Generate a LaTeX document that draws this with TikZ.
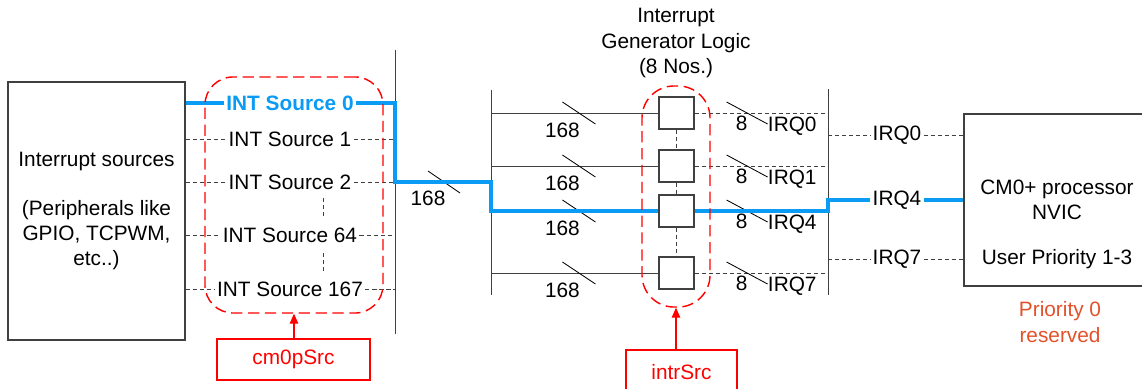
\documentclass[tikz,border=0pt]{standalone}
\usepackage{fontspec}
\setmainfont{Liberation Sans}
\usetikzlibrary{positioning,arrows.meta,calc}
\definecolor{cBlue}{HTML}{0A9BF5}
\definecolor{cRed}{HTML}{FF0000}
\definecolor{cOrange}{HTML}{E2512A}
\definecolor{cInk}{HTML}{000000}
\definecolor{cLine}{HTML}{404040}

\begin{document}
\begin{tikzpicture}[x=0.025cm,y=-0.025cm,font=\fontsize{14.8}{18}\selectfont,
      blk/.style={draw=cLine,line width=0.8pt,text=cInk,align=center},
      gen/.style={draw=cLine,line width=0.8pt,minimum width=0.875cm,minimum height=0.8cm,inner sep=0pt},
      grp/.style={draw=cRed,line width=1pt,dash pattern=on 8pt off 4pt,rounded corners=0.7cm,inner sep=0pt},
      tag/.style={draw=cRed,line width=1pt,text=cRed},
      lbl/.style={inner sep=1.5pt,text=cInk},
      sig/.style={cLine,line width=0.6pt,dash pattern=on 3pt off 2pt},
      wire/.style={cLine,line width=0.7pt},
      hot/.style={cBlue,line width=2.2pt},
      tick/.style={cInk,line width=0.6pt},
      arr/.style={-{Triangle[length=7pt,width=6pt]},cRed,line width=0.8pt}]
    \useasboundingbox (0,0) rectangle (1142,388);
    % sources and first bus
    \node[blk,minimum width=4.425cm,minimum height=6.45cm] (src) at (96.5,211)
      {Interrupt sources\\[17pt](Peripherals like\\GPIO, TCPWM,\\etc..)};
    \coordinate (busA) at (395,50);
    \coordinate (busAend) at (395,334);
    \draw[wire] (busA) -- (busAend);
    \foreach \n/\y in {1/139,2/182,64/235,167/289} {
      \node[lbl] (s\n) at (290,\y) {INT Source \n};
      \draw[sig] (src.east |- s\n) -- (s\n.west);
      \draw[sig] (s\n.east) -- (busA |- s\n);
    }
    \node[lbl,text=cBlue,font=\fontsize{14.8}{18}\selectfont\bfseries] (s0) at (290,103) {INT Source 0};
    \draw[sig] (323,198) -- (323,218);
    \draw[sig] (323,253) -- (323,272);
    % generator logic
    \node[align=center] (title) at (676,43) {Interrupt\\Generator Logic\\(8 Nos.)};
    \coordinate (busB) at (491,90);
    \coordinate (busBend) at (491,295);
    \coordinate (busC) at (828,89);
    \coordinate (busCend) at (828,295);
    \draw[wire] (busB) -- (busBend);
    \draw[wire] (busC) -- (busCend);
    \foreach \k/\y in {0/113,1/166,4/211,7/273}
      \node[gen] (g\k) at (676.5,\y) {};
    \foreach \k in {0,1,4,7} {
      \draw[wire] (busB |- g\k) -- (g\k.west);
      \draw[tick] ($(g\k.west)+(-96,-11)$) -- ++(33,22);
      \node[lbl] (n\k) at ($(g\k.west)+(-96,17)$) {168};
      \draw[sig] (g\k.east) -- (busC |- g\k);
      \draw[tick] ($(g\k.east)+(32,-11)$) -- ++(41,22);
      \node[lbl] (w\k) at ($(g\k.east)+(47,10)$) {8};
      \node[lbl,anchor=west] (q\k) at ($(g\k.east)+(71,13)$) {IRQ\k};
    }
    \draw[sig] (g0.south) -- (g1.north);
    \draw[sig] (g1.south) -- (g4.north);
    \draw[sig] (g4.south) -- (g7.north);
    \draw[tick] (428,171) -- (460,193);
    \node[lbl] (nA) at (428,198) {168};
    % NVIC
    \node[blk,minimum width=4.65cm,minimum height=4.3cm] (nvic) at (1057,200) {CM0+ processor\\NVIC};
    \node[lbl] (prio) at (1057,259) {User Priority 1-3};
    \node[text=cOrange,align=center] (resv) at (1060,322) {Priority 0\\reserved};
    \foreach \k/\y in {0/135,4/200,7/259}
      \node[lbl] (r\k) at (897,\y) {IRQ\k};
    \foreach \k in {0,7} {
      \draw[sig] (busC |- r\k) -- (r\k.west);
      \draw[sig] (r\k.east) -- (nvic.west |- r\k);
    }
    % highlighted path
    \draw[hot] (src.east |- s0) -- (s0.west);
    \draw[hot] (s0.east) -- (busA |- s0) -- (busA |- s2) -- (busB |- s2) -- (busB |- g4) -- (g4.west);
    \draw[hot] (g4.east) -- (busC |- g4) -- (busC |- r4) -- (r4.west);
    \draw[hot] (r4.east) -- (nvic.west |- r4);
    % parameter groups
    \node[grp,minimum width=4.45cm,minimum height=5.9cm] (grpA) at (294,195) {};
    \node[grp,minimum width=1.7cm,minimum height=5.525cm,rounded corners=0.8cm] (grpB) at (676,196.5) {};
    \node[tag,minimum width=3.825cm,minimum height=1.025cm] (cm0p) at (293.5,359.5) {cm0pSrc};
    \node[tag,minimum width=2.775cm,minimum height=1.1cm] (intr) at (681.5,372) {intrSrc};
    \draw[arr] (cm0p.north -| grpA.south) -- (grpA.south);
    \draw[arr] (intr.north -| grpB.south) -- (grpB.south);
  \end{tikzpicture}
\end{document}
